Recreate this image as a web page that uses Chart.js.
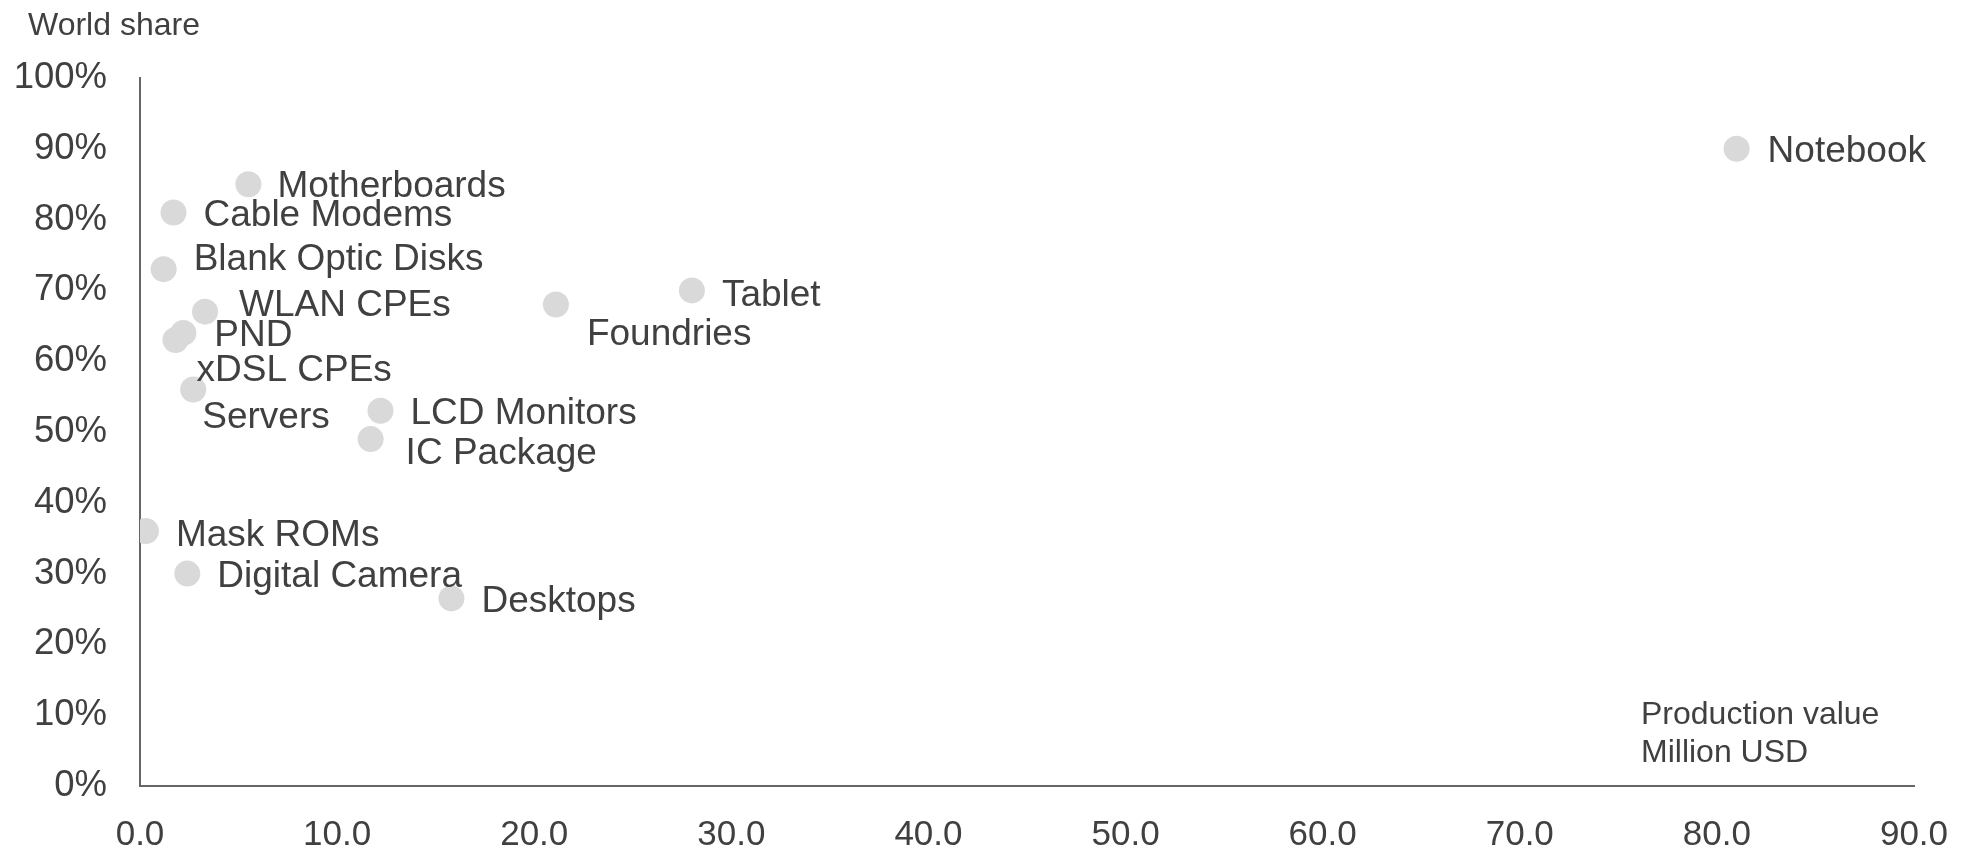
<!DOCTYPE html>
<html>
<head>
<meta charset="utf-8">
<script src="https://cdn.jsdelivr.net/npm/chart.js@4.4.0/dist/chart.umd.min.js"></script>
<style>
  body { margin: 0; background: #fff; }
  #wrap { width: 1966px; height: 847px; position: relative; }
</style>
</head>
<body>
<div id="wrap"><canvas id="shareChart"></canvas></div>
<script>
// Production value (million USD) vs world share (%)
const products = ['Notebook', 'Motherboards', 'Cable Modems', 'Blank Optic Disks', 'WLAN CPEs',
    'PND', 'xDSL CPEs', 'Servers', 'LCD Monitors', 'IC Package', 'Foundries', 'Tablet',
    'Mask ROMs', 'Digital Camera', 'Desktops'];
const productionValue = [81.0, 5.5, 1.7, 1.2, 3.3, 2.2, 1.8, 2.7, 12.2, 11.7, 21.1, 28.0, 0.3, 2.4, 15.8];
const worldShare = [90, 85, 81, 73, 67, 64, 63, 56, 53, 49, 68, 70, 36, 30, 26.5];
const xTicks = [0, 10, 20, 30, 40, 50, 60, 70, 80, 90];
const yTicks = [0, 10, 20, 30, 40, 50, 60, 70, 80, 90, 100];

// where each label sits relative to its dot (px)
const labelOffsets = [[31, 0], [29, 0], [30, 0], [30, -12], [34, -9], [31, 0], [21, 28], [9, 25],
    [30, 0], [35, 12], [31, 27], [30, 2], [30, 2], [30, 0], [30, 0]];

const textColor = '#404040';
const fontFamily = '"Liberation Sans", Arial, sans-serif';

const labelPlugin = {
    id: 'pointLabels',
    afterDatasetsDraw(chart) {
        const ctx = chart.ctx;
        const meta = chart.getDatasetMeta(0);
        ctx.save();
        ctx.fillStyle = textColor;
        ctx.textBaseline = 'middle';
        ctx.textAlign = 'left';
        ctx.font = '37px ' + fontFamily;
        meta.data.forEach((pt, i) => {
            const off = labelOffsets[i];
            ctx.fillText(products[i], pt.x + off[0], pt.y + off[1] + 3);
        });
        ctx.font = '32px ' + fontFamily;
        ctx.fillText('World share', 28, 26);
        ctx.fillText('Production value', 1641, 715);
        ctx.fillText('Million USD', 1641, 753);
        ctx.restore();
    }
};

const ctx = document.getElementById('shareChart').getContext('2d');
new Chart(ctx, {
    type: 'scatter',
    data: {
        datasets: [{
            data: productionValue.map((v, i) => ({ x: v, y: worldShare[i] })),
            backgroundColor: '#d9d9d9',
            borderWidth: 0,
            pointRadius: 13,
            pointHoverRadius: 13
        }]
    },
    options: {
        responsive: true,
        maintainAspectRatio: false,
        animation: false,
        layout: { padding: { top: 78, right: 52, left: 0, bottom: 0 } },
        plugins: {
            legend: { display: false },
            tooltip: { enabled: false }
        },
        scales: {
            x: {
                min: 0,
                max: 90,
                afterBuildTicks: (scale) => { scale.ticks = xTicks.map(v => ({ value: v })); },
                afterFit: (scale) => {
                    scale.height = 61;
                    scale.paddingLeft = 0;
                    scale.paddingRight = 0;
                },
                grid: { display: false, drawTicks: false },
                border: { color: '#666', width: 2 },
                ticks: {
                    color: textColor,
                    padding: 28,
                    maxRotation: 0,
                    font: { size: 35, family: fontFamily },
                    callback: (v) => v.toFixed(1)
                }
            },
            y: {
                min: 0,
                max: 100,
                afterBuildTicks: (scale) => { scale.ticks = yTicks.map(v => ({ value: v })); },
                afterFit: (scale) => {
                    scale.width = 140;
                    scale.paddingTop = 0;
                    scale.paddingBottom = 0;
                },
                grid: { display: false, drawTicks: false },
                border: { color: '#666', width: 2 },
                ticks: {
                    color: textColor,
                    padding: 33,
                    font: { size: 36.5, family: fontFamily },
                    callback: (v) => v + '%'
                }
            }
        }
    },
    plugins: [labelPlugin]
});
</script>
</body>
</html>
